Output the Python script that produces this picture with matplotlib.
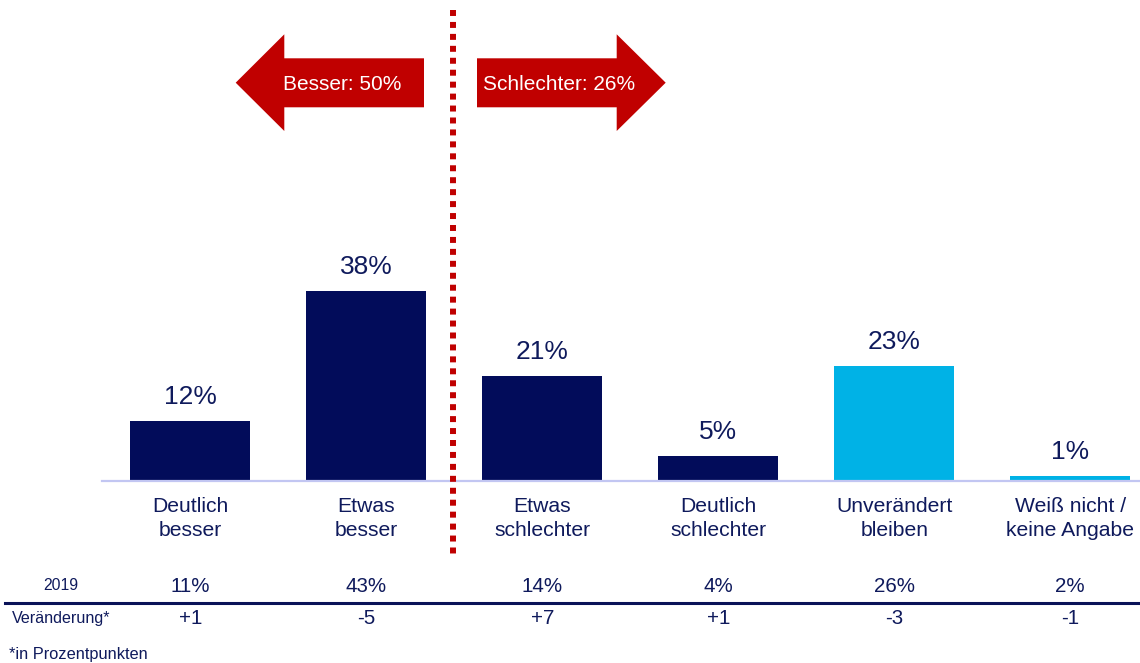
import matplotlib
matplotlib.use("Agg")
import matplotlib.pyplot as plt
from matplotlib.patches import Polygon
from matplotlib.lines import Line2D

plt.rcParams['font.family'] = ['Liberation Sans', 'DejaVu Sans']

categories = ["Deutlich\nbesser", "Etwas\nbesser", "Etwas\nschlechter",
              "Deutlich\nschlechter", "Unverändert\nbleiben", "Weiß nicht /\nkeine Angabe"]
values_2021 = [12, 38, 21, 5, 23, 1]
values_2019 = ["11%", "43%", "14%", "4%", "26%", "2%"]
changes = ["+1", "-5", "+7", "+1", "-3", "-1"]
arrow_labels = ["Besser: 50%", "Schlechter: 26%"]
row_labels = ["2019", "Veränderung*"]
footnote = "*in Prozentpunkten"

NAVY = "#020c5a"
LIGHT = "#00b2e6"
RED = "#c00000"
TXT = "#0f1a5c"
bar_colors = [NAVY, NAVY, NAVY, NAVY, LIGHT, LIGHT]

W, H = 1140, 663
fig = plt.figure(figsize=(W / 100, H / 100), dpi=100)
ax = fig.add_axes([0, 0, 1, 1])
ax.axis("off")

# pixel mapping: category i -> x px = 190.3 + 176*i ; value v -> y px from top = 481 - 5*v
x0, dx = 190.3, 176.0
base, sc = 481.0, 5.0
ax.set_xlim(-x0 / dx, (W - x0) / dx)
ax.set_ylim(-(H - base) / sc, base / sc)

def fx(px):
    return px / W

def fy(py):
    return 1 - py / H

xs = list(range(len(categories)))
ax.bar(xs, values_2021, width=120 / dx, color=bar_colors, zorder=2)

for x, v in zip(xs, values_2021):
    ax.annotate(f"{v}%", (x, v), xytext=(0, 8.5), textcoords="offset points",
                ha="center", va="bottom", fontsize=19, color=TXT)
    ax.text(x, -7.5, categories[x], ha="center", va="center", fontsize=15.2,
            color=TXT, linespacing=1.36)
    ax.text(x, -21.1, values_2019[x], ha="center", va="center", fontsize=14.8, color=TXT)
    ax.text(x, -27.4, changes[x], ha="center", va="center", fontsize=14.8, color=TXT)

# baseline axis line
fig.add_artist(Line2D([fx(102), fx(1140)], [fy(481), fy(481)], color="#c2c6f2", lw=1.6,
                      transform=fig.transFigure, zorder=1))
# table separator line
fig.add_artist(Line2D([fx(5), fx(1140)], [fy(603), fy(603)], color="#0a1258", lw=2.2,
                      transform=fig.transFigure))

fig.text(fx(61), fy(586), row_labels[0], ha="center", va="center", fontsize=11.3, color=TXT)
fig.text(fx(12), fy(618), row_labels[1], ha="left", va="center", fontsize=11.6, color=TXT)
fig.text(fx(9), fy(655), footnote, ha="left", va="center", fontsize=11.8, color=TXT)

# dotted red divider
fig.add_artist(Line2D([fx(452.5), fx(452.5)], [fy(10), fy(556)], color=RED, lw=4.3,
                      linestyle=(0, (1, 1)), dash_capstyle="butt",
                      transform=fig.transFigure))

# arrows
left_arrow = [(235.7, 82.7), (284.3, 34.3), (284.3, 58.3), (424, 58.3),
              (424, 107.3), (284.3, 107.3), (284.3, 131)]
right_arrow = [(665.7, 82.7), (616.7, 34.3), (616.7, 58.3), (477, 58.3),
               (477, 107.3), (616.7, 107.3), (616.7, 131)]
for pts in (left_arrow, right_arrow):
    fig.add_artist(Polygon([(fx(a), fy(b)) for a, b in pts], closed=True,
                           facecolor=RED, edgecolor="none", transform=fig.transFigure))
fig.text(fx(342.5), fy(84), arrow_labels[0], ha="center", va="center", fontsize=15, color="white")
fig.text(fx(559), fy(84), arrow_labels[1], ha="center", va="center", fontsize=15, color="white")

fig.savefig("out.png", dpi=100)
